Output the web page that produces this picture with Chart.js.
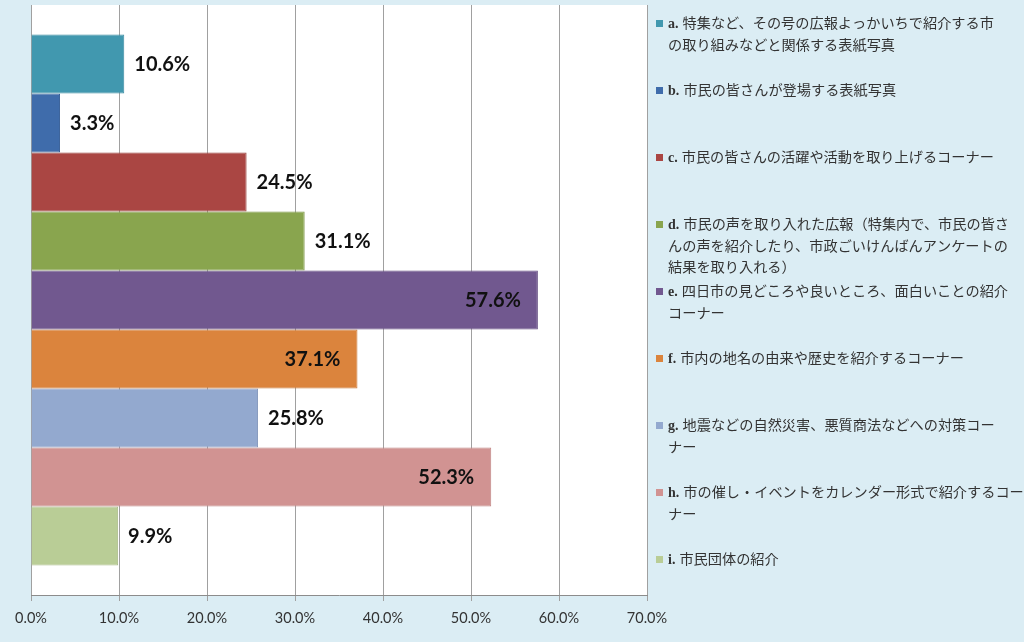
<!DOCTYPE html>
<html>
<head>
<meta charset="utf-8">
<script src="https://cdn.jsdelivr.net/npm/chart.js@4"></script>
<style>
html,body{margin:0;padding:0;background:#dbedf4;}
#wrap{width:1024px;height:642px;}
</style>
</head>
<body>
<div id="wrap"><canvas id="c" width="1024" height="642"></canvas></div>
<script>
// ---- data ----
const categories = [''];
const seriesPrefixes = ['a.', 'b.', 'c.', 'd.', 'e.', 'f.', 'g.', 'h.', 'i.'];
const seriesNames = [
  '特集など、その号の広報よっかいちで紹介する市\nの取り組みなどと関係する表紙写真',
  '市民の皆さんが登場する表紙写真',
  '市民の皆さんの活躍や活動を取り上げるコーナー',
  '市民の声を取り入れた広報（特集内で、市民の皆さ\nんの声を紹介したり、市政ごいけんばんアンケートの\n結果を取り入れる）',
  '四日市の見どころや良いところ、面白いことの紹介\nコーナー',
  '市内の地名の由来や歴史を紹介するコーナー',
  '地震などの自然災害、悪質商法などへの対策コー\nナー',
  '市の催し・イベントをカレンダー形式で紹介するコー\nナー',
  '市民団体の紹介'
];
const seriesValues = [10.6, 3.3, 24.5, 31.1, 57.6, 37.1, 25.8, 52.3, 9.9];

// ---- styles ----
const fillColors = ['#4198af', '#3f6cab', '#aa4643', '#89a54e', '#71588f', '#db843d', '#93a9cf', '#d19392', '#b9cd96'];
const edgeColors = ['#3a8aa0', '#385f98', '#98403d', '#7c9646', '#634c80', '#c87836', '#8598bd', '#c08584', '#a9bc88'];
const labelInside = [false, false, false, false, true, true, false, true, false];

const datasets = seriesNames.map((n, i) => ({
  label: seriesPrefixes[i] + ' ' + n,
  data: [seriesValues[i]],
  backgroundColor: fillColors[i],
  borderColor: edgeColors[i],
  borderWidth: 1,
  borderSkipped: 'start',
  barPercentage: 1.0,
  categoryPercentage: 0.9
}));

const bgPlugin = {
  id: 'bg',
  beforeDraw(chart) {
    const ctx = chart.ctx, a = chart.chartArea;
    ctx.save();
    ctx.fillStyle = '#dbedf4';
    ctx.fillRect(0, 0, chart.width, chart.height);
    ctx.fillStyle = '#ffffff';
    ctx.fillRect(a.left, a.top, a.right - a.left, a.bottom - a.top);
    ctx.restore();
  }
};

const labelPlugin = {
  id: 'vals',
  afterDatasetsDraw(chart) {
    const ctx = chart.ctx;
    ctx.save();
    ctx.font = 'bold 20px Lato, "Liberation Sans", sans-serif';
    ctx.fillStyle = '#111111';
    ctx.textBaseline = 'middle';
    chart.data.datasets.forEach((ds, i) => {
      const el = chart.getDatasetMeta(i).data[0];
      const txt = ds.data[0].toFixed(1) + '%';
      if (labelInside[i]) {
        ctx.textAlign = 'right';
        ctx.fillText(txt, el.x - 17, el.y + 1);
      } else {
        ctx.textAlign = 'left';
        ctx.fillText(txt, el.x + 10, el.y + 1);
      }
    });
    ctx.restore();
  }
};

const legendPlugin = {
  id: 'sideLegend',
  afterDraw(chart) {
    const ctx = chart.ctx;
    const x0 = 656, tx = 668, top = 23, slot = 67, lh = 21.5;
    ctx.save();
    ctx.textBaseline = 'middle';
    seriesNames.forEach((name, i) => {
      const y = top + i * slot;
      ctx.fillStyle = fillColors[i];
      ctx.fillRect(x0, y - 3, 7, 7);
      ctx.fillStyle = '#333333';
      const lines = name.split('\n');
      lines.forEach((ln, k) => {
        let x = tx;
        const yy = y + k * lh;
        if (k === 0) {
          ctx.font = 'bold 14px "Liberation Serif", serif';
          ctx.textAlign = 'left';
          ctx.fillText(seriesPrefixes[i], x, yy + 1);
          x += ctx.measureText(seriesPrefixes[i]).width + 4;
        }
        ctx.font = '14.2px "Noto Sans CJK JP", sans-serif';
        ctx.fillText(ln, x, yy);
      });
    });
    ctx.restore();
  }
};

new Chart(document.getElementById('c'), {
  type: 'bar',
  data: { labels: categories, datasets: datasets },
  options: {
    indexAxis: 'y',
    responsive: false,
    animation: false,
    devicePixelRatio: 1,
    layout: { padding: { left: 31, right: 377, top: 5, bottom: 0 } },
    plugins: {
      legend: { display: false },
      tooltip: { enabled: false }
    },
    scales: {
      x: {
        min: 0,
        max: 70,
        ticks: {
          stepSize: 10,
          padding: 9,
          color: '#333333',
          font: { family: 'Lato, "Liberation Sans", sans-serif', size: 14.5 },
          callback: v => v.toFixed(1) + '%'
        },
        grid: { color: '#a0a0a0', lineWidth: 1, tickLength: 6, drawOnChartArea: true },
        border: { display: true, color: '#8c8c8c' },
        afterFit(scale) { scale.height = 47; }
      },
      y: {
        display: false
      }
    }
  },
  plugins: [bgPlugin, labelPlugin, legendPlugin]
});
</script>
</body>
</html>
